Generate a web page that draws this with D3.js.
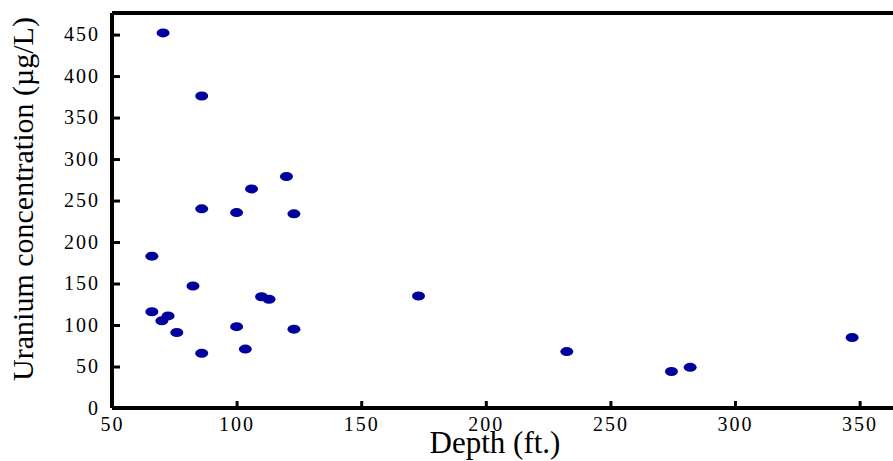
<!DOCTYPE html>
<html>
<head>
	<meta charset="utf-8">
	<title>Uranium vs depth</title>
	<script type="text/javascript" src="https://d3js.org/d3.v7.min.js"></script>
	<style>
		body { margin: 0; background: #fff; }
		text { font-family: "Liberation Serif", "Times New Roman", serif; fill: #000; }
	</style>
</head>

<body>
	<div id="chart"></div>
	<script>
	// depth (ft.) and uranium (ug/L)
	var depth = [70.5, 86, 106, 120, 86, 100, 123, 66, 82.5, 66, 70, 72.5,
		76, 86, 100, 103.5, 110, 113, 123, 173, 232.5, 274.5, 282, 347];
	var uranium = [452, 376, 264, 279, 240, 235.5, 234, 183, 147, 116, 105, 111,
		91, 66, 98, 71, 134, 131, 95, 135, 68, 44, 49, 85];

	var xTicks = [50, 100, 150, 200, 250, 300, 350];
	var yTicks = [0, 50, 100, 150, 200, 250, 300, 350, 400, 450];

	var width = 893;
	var height = 461;

	var svg = d3.select("#chart")
		.append("svg")
			.attr("width", width)
			.attr("height", height);

	var x = d3.scaleLinear()
		.domain([50, 365])
		.range([112, 897]);

	var y = d3.scaleLinear()
		.domain([0, 476])
		.range([408, 13]);

	// top frame line
	svg.append("line")
		.attr("x1", x(50)).attr("x2", width)
		.attr("y1", y(476)).attr("y2", y(476))
		.attr("stroke", "#000").attr("stroke-width", 4);

	// points
	svg.selectAll("ellipse")
		.data(depth)
		.enter()
		.append("ellipse")
		.attr("cx", function(d){ return x(d); })
		.attr("cy", function(d, i){ return y(uranium[i]); })
		.attr("rx", 6.5)
		.attr("ry", 4.5)
		.attr("fill", "#00009c");

	var xAxis = d3.axisBottom(x)
		.tickValues(xTicks)
		.tickSizeInner(-7)
		.tickSizeOuter(0)
		.tickPadding(9);

	var gx = svg.append("g")
		.attr("transform", "translate(0," + y(0) + ")")
		.call(xAxis);

	var yAxis = d3.axisLeft(y)
		.tickValues(yTicks)
		.tickSizeInner(-8)
		.tickSizeOuter(0)
		.tickPadding(12);

	var gy = svg.append("g")
		.attr("transform", "translate(" + x(50) + ",0)")
		.call(yAxis);

	[gx, gy].forEach(function(g){
		g.select(".domain").attr("stroke", "#000").attr("stroke-width", 4);
		g.selectAll(".tick line").attr("stroke", "#000").attr("stroke-width", 3);
		g.selectAll(".tick text")
			.style("font-family", "'Liberation Serif', serif")
			.style("font-size", "20px")
			.style("letter-spacing", "2px")
			.attr("fill", "#000");
	});
	gx.select(".domain").attr("d", "M" + x(50) + ",0H" + width);
	gy.select(".domain").attr("d", "M0," + y(476) + "V" + y(0));

	// axis titles
	svg.append("text")
		.attr("x", 495)
		.attr("y", 453)
		.attr("text-anchor", "middle")
		.style("font-size", "31px")
		.text("Depth (ft.)");

	svg.append("text")
		.attr("transform", "translate(33,199) rotate(-90)")
		.attr("text-anchor", "middle")
		.style("font-size", "30px")
		.text("Uranium concentration (µg/L)");
	</script>
</body>
</html>
